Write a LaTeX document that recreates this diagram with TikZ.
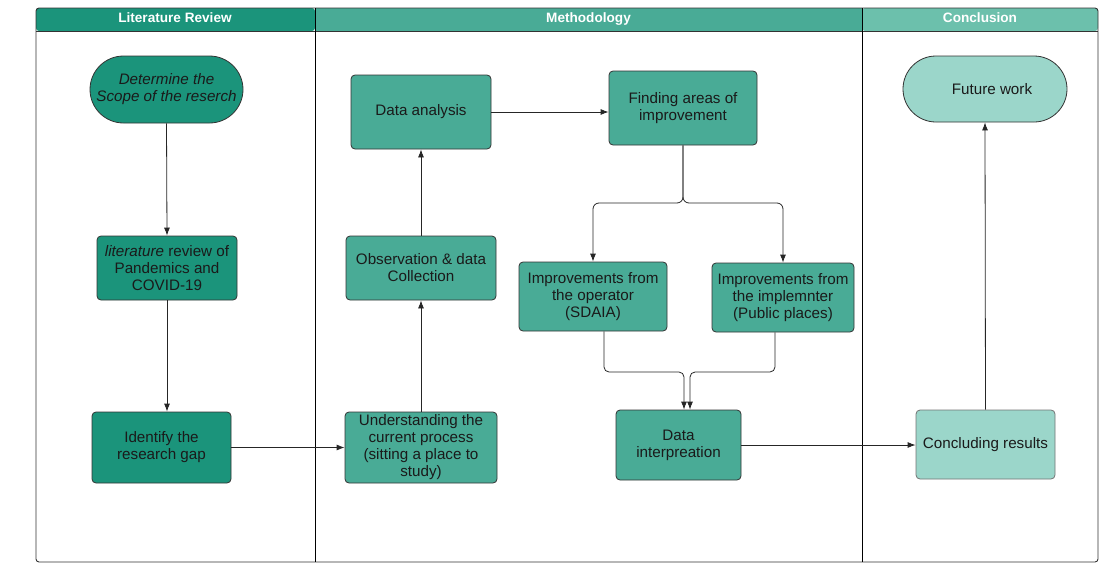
\documentclass[tikz,border=0pt]{standalone}
\usepackage{fontspec}
\setmainfont{Liberation Sans}
\usetikzlibrary{shapes.misc,arrows.meta}
\definecolor{cdark}{HTML}{1B947B}
\definecolor{cmed}{HTML}{49AB96}
\definecolor{clight}{HTML}{9BD6CA}
\definecolor{hdark}{HTML}{1B947B}
\definecolor{hmed}{HTML}{49AB96}
\definecolor{hlight}{HTML}{6CC0AC}
\definecolor{cborder}{HTML}{333333}
\definecolor{ctext}{HTML}{1A1A1A}
\tikzset{
  box/.style={draw=cborder, line width=0.8pt, rounded corners=4pt, align=center,
    text=ctext, font=\fontsize{15.2}{17}\selectfont, inner sep=1pt},
  stad/.style={draw=cborder, line width=0.8pt, rounded rectangle, align=center,
    text=ctext, font=\fontsize{15.2}{17}\selectfont, inner sep=1pt},
  arr/.style={draw=black!85, line width=0.8pt, -{Latex[length=8pt,width=6pt]}},
  hdr/.style={font=\bfseries\fontsize{13.6}{15}\selectfont, text=white, text height=10pt, text depth=3pt},
}
\begin{document}
\begin{tikzpicture}[x=1pt,y=-1pt]
\useasboundingbox (0,0) rectangle (1104,565);
% header fills
\fill[hdark, rounded corners=3pt] (36,8) -- (315,8) -- (315,31) -- (36,31) -- cycle;
\fill[hmed] (315,8) rectangle (862,31);
\fill[hlight, rounded corners=3pt] (862,8) -- (1098,8) -- (1098,31) -- (862,31) -- cycle;
% frame
\draw[cborder, line width=0.9pt, rounded corners=3pt] (36,8) rectangle (1098,562);
\draw[cborder, line width=0.9pt] (36,31) -- (1098,31);
\draw[black, line width=1pt] (315,8) -- (315,562);
\draw[black, line width=1pt] (862,8) -- (862,562);
\node[hdr] (h1) at (175,19) {Literature Review};
\node[hdr] (h2) at (588.5,19) {Methodology};
\node[hdr] (h3) at (980,19) {Conclusion};
% nodes
\node[stad, fill=cdark, minimum width=155pt, minimum height=67pt, font=\itshape\fontsize{15.2}{17}\selectfont] (scope) at (166.5,89.5) {Determine the\\Scope of the reserch};
\node[box, fill=cdark, minimum width=140pt, minimum height=64pt] (lit) at (167,268) {\textit{literature} review of\\Pandemics and\\COVID-19};
\node[box, fill=cdark, minimum width=139pt, minimum height=71pt] (gap) at (161.5,447.5) {Identify the\\research gap};
\node[box, fill=cmed, minimum width=140pt, minimum height=74pt] (da) at (421,112) {Data analysis};
\node[box, fill=cmed, minimum width=150pt, minimum height=64pt] (obs) at (421,268) {Observation \& data\\Collection};
\node[box, fill=cmed, minimum width=152pt, minimum height=71pt] (und) at (421,447.5) {Understanding the\\current process\\(sitting a place to\\study)};
\node[box, fill=cmed, minimum width=148pt, minimum height=74pt] (find) at (683,108) {Finding areas of\\improvement};
\node[box, fill=cmed, minimum width=148pt, minimum height=69pt] (op) at (593,296.5) {Improvements from\\the operator\\(SDAIA)};
\node[box, fill=cmed, minimum width=142pt, minimum height=69pt] (impl) at (783,297.5) {Improvements from\\the implemnter\\(Public places)};
\node[box, fill=cmed, minimum width=125pt, minimum height=70pt] (interp) at (678.5,445) {Data\\interpreation};
\node[stad, fill=clight, minimum width=166pt, minimum height=66pt] (fw) at (985,89) {\hspace*{14pt}Future work};
\node[box, fill=clight, draw=black!55, minimum width=139pt, minimum height=69pt] (conc) at (985.5,444.5) {Concluding results};
% coordinates
\coordinate (split) at (683,203);
\coordinate (m1) at (684,372);
\coordinate (m2) at (690,372);
% connectors
\draw[arr] (scope.south) -- (lit.north);
\draw[arr] (lit.south) -- (lit.south |- gap.north);
\draw[arr] (gap.east) -- (gap.east -| und.west);
\draw[arr] (und.north) -- (obs.south);
\draw[arr] (obs.north) -- (da.south);
\draw[arr] (da.east) -- (da.east -| find.west);
\draw[arr, rounded corners=6pt] (find.south) -- (split) -| (op.north);
\draw[arr, rounded corners=6pt] (find.south) -- (split) -| (impl.north);
\draw[arr, rounded corners=5pt] ([xshift=11pt]op.south) |- (m1) -- (m1 |- interp.north);
\draw[arr, rounded corners=5pt] ([xshift=-8pt]impl.south) |- (m2) -- (m2 |- interp.north);
\draw[arr] (interp.east) -- (interp.east -| conc.west);
\draw[arr] (conc.north) -- ([xshift=0pt]fw.south);
\end{tikzpicture}
\end{document}
